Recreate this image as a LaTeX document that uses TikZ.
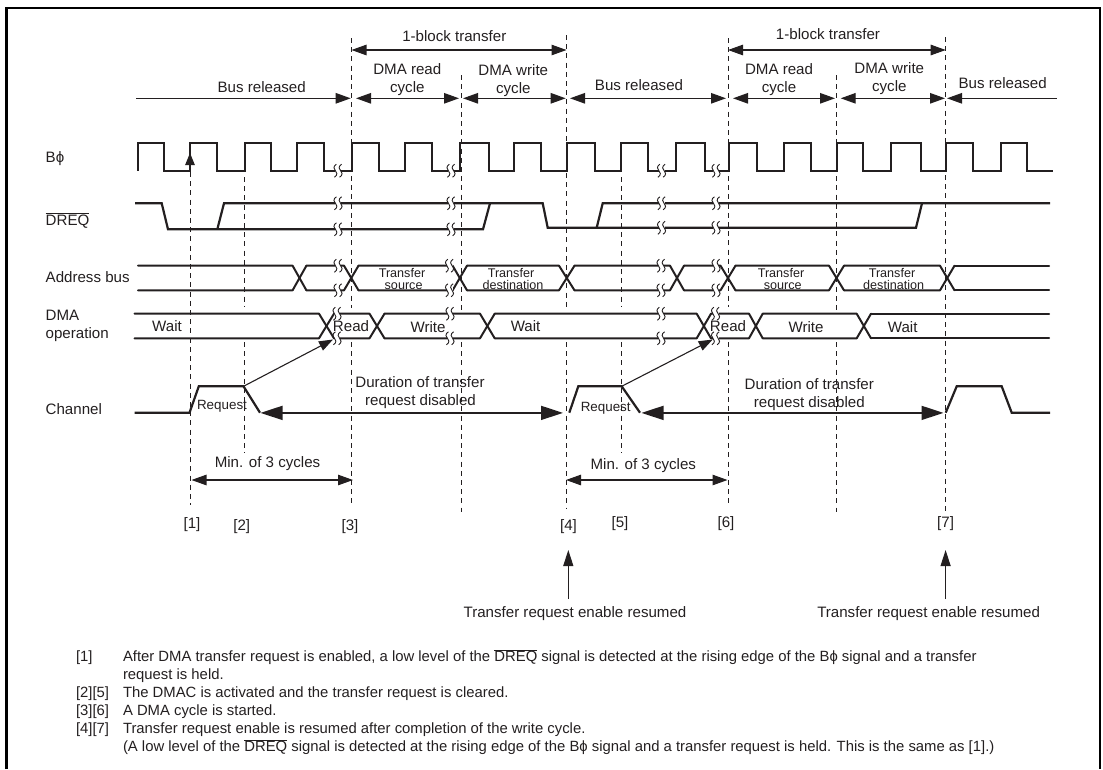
\documentclass[tikz,border=0pt]{standalone}
\usepackage{fontspec}
\setmainfont{Liberation Sans}
\usetikzlibrary{arrows.meta}
\definecolor{ink}{HTML}{231F20}
\newcommand\ovl[1]{\leavevmode\vbox{\hrule height .6pt\kern 1pt\hbox{#1}}}
\newcommand\phiglyph{ϕ}
\newcommand\brk[2]{%
  \fill[white] (#1-3,#2-4) rectangle (#1+3,#2+4);
  \foreach \d in {-2.6,2.6}{
    \draw[squig,shift={(#1+\d,#2)}] (1,-6.5) .. controls (-2.6,-4.5) and (-1.6,-1) .. (0,0) .. controls (1.6,1) and (2.6,4.5) .. (-1,6.5);
  }%
}
\newcommand\busrow[5]{% upper y, lower y, start, end, crossings
  \def\prevx{#3}%
  \foreach \s/\e [remember=\e as \prevx (initially #3)] in {#5}{
    \draw[bus] (\prevx,#1) -- (\s,#1) -- (\e,#2);
    \draw[bus] (\prevx,#2) -- (\s,#2) -- (\e,#1);
    \xdef\lastx{\e}
  }
  \draw[bus] (\lastx,#1) -- (#4,#1);
  \draw[bus] (\lastx,#2) -- (#4,#2);
}
\tikzset{
  sig/.style={line width=2.2pt,color=ink,line join=miter},
  bus/.style={line width=2pt,color=ink,line join=round,line cap=round},
  squig/.style={line width=.9pt,color=ink},
  guide/.style={line width=1pt,color=ink,dash pattern=on 5pt off 4.2pt},
  dim/.style={line width=1.1pt,color=ink,{Triangle[length=15pt,width=10.5pt]}-{Triangle[length=15pt,width=10.5pt]}},
  dimr/.style={line width=1.1pt,color=ink,-{Triangle[length=15pt,width=10.5pt]}},
  diml/.style={line width=1.1pt,color=ink,{Triangle[length=15pt,width=10.5pt]}-},
  big/.style={line width=1.6pt,color=ink,{Triangle[length=22pt,width=14pt]}-{Triangle[length=22pt,width=14pt]}},
  txt/.style={anchor=base,inner sep=0pt,outer sep=0pt,text=ink,font=\fontsize{15.1}{18}\selectfont},
  ltxt/.style={txt,anchor=base west},
  sm/.style={txt,font=\fontsize{12.6}{12}\selectfont},
  note/.style={anchor=base west,inner sep=0pt,outer sep=0pt,text=ink,font=\fontsize{14.85}{18}\selectfont},
}
\begin{document}
\begin{tikzpicture}[x=1pt,y=-1pt]
\useasboundingbox (0,0) rectangle (1103,769);
\draw[line width=2.4pt,black,line join=miter] (6.3,769) -- (6.3,8) -- (1099.7,8) -- (1099.7,769);

% guides
\draw[guide] (190,172) -- (190,505);
\draw[guide] (244.7,177) -- (244.7,307) (244.7,342) -- (244.7,453);
\draw[guide] (351.5,38) -- (351.5,308) (351.5,342) -- (351.5,505);
\draw[guide] (461,75) -- (461,312) (461,342) -- (461,511.7);
\draw[guide] (566.5,35) -- (566.5,307) (566.5,342) -- (566.5,508);
\draw[guide] (621.7,177) -- (621.7,307) (621.7,342) -- (621.7,453);
\draw[guide] (728,38) -- (728,307) (728,342) -- (728,505);
\draw[guide] (836,75) -- (836,312) (836,342) -- (836,511.7);
\draw[guide] (945.7,37) -- (945.7,512);

% top dimension arrows
\coordinate (dA) at (351.5,50); \coordinate (dB) at (566.5,50);
\coordinate (dC) at (728,50); \coordinate (dD) at (945.7,50);
\draw[dim] (dA) -- (dB);
\draw[dim] (dC) -- (dD);
\coordinate (b0) at (136,98.3);
\coordinate (b1) at (350.7,98.3); \coordinate (b2) at (356,98.3);
\coordinate (b3) at (459,98.3); \coordinate (b4) at (463,98.3);
\coordinate (b5) at (565.7,98.3); \coordinate (b6) at (570,98.3);
\coordinate (b7) at (726,98.3); \coordinate (b8) at (733,98.3);
\coordinate (b9) at (835,98.3); \coordinate (b10) at (840.7,98.3);
\coordinate (b11) at (945,98.3); \coordinate (b12) at (947,98.3);
\coordinate (b13) at (1057,98.3);
\draw[dimr] (b0) -- (b1);
\draw[dim] (b2) -- (b3);
\draw[dim] (b4) -- (b5);
\draw[dim] (b6) -- (b7);
\draw[dim] (b8) -- (b9);
\draw[dim] (b10) -- (b11);
\draw[diml] (b12) -- (b13);

% top texts
\node[txt] (t1) at (454.3,41) {1-block transfer};
\node[txt] (t2) at (828,39) {1-block transfer};
\node[txt] (t3) at (261.7,92) {Bus released};
\node[txt] (t4) at (407.3,74) {DMA read};
\node[txt] (t5) at (407.3,92) {cycle};
\node[txt] (t6) at (513.3,75) {DMA write};
\node[txt] (t7) at (513.3,93) {cycle};
\node[txt] (t8) at (639,90) {Bus released};
\node[txt] (t9) at (779,74) {DMA read};
\node[txt] (t10) at (779,92) {cycle};
\node[txt] (t11) at (889.3,73) {DMA write};
\node[txt] (t12) at (889.3,91) {cycle};
\node[txt] (t13) at (1002.7,88) {Bus released};

% left labels
\node[ltxt] (l1) at (45.7,162) {B\phiglyph};
\node[ltxt] (l2) at (45.7,225) {\ovl{DREQ}};
\node[ltxt] (l3) at (45.7,282) {Address bus};
\node[ltxt] (l4) at (45.7,320) {DMA};
\node[ltxt] (l5) at (45.7,338) {operation};
\node[ltxt] (l6) at (45.7,414) {Channel};

% clock
\def\hi{143.3}\def\lo{170.7}
\draw[sig] (137.7,\lo) -- (137.7,\hi) -- (164.3,\hi) -- (164.3,\lo) -- (190,\lo) -- (190,\hi) -- (217,\hi) -- (217,\lo) -- (245,\lo) -- (245,\hi) -- (271,\hi) -- (271,\lo) -- (296.7,\lo) -- (296.7,\hi) -- (324,\hi) -- (324,\lo) -- (351.7,\lo) -- (351.7,\hi) -- (379,\hi) -- (379,\lo) -- (405,\lo) -- (405,\hi) -- (431.7,\hi) -- (431.7,\lo) -- (460,\lo) -- (460,\hi) -- (489,\hi) -- (489,\lo) -- (514,\lo) -- (514,\hi) -- (541,\hi) -- (541,\lo) -- (567,\lo) -- (567,\hi) -- (595,\hi) -- (595,\lo) -- (620.7,\lo) -- (620.7,\hi) -- (647.7,\hi) -- (647.7,\lo) -- (676,\lo) -- (676,\hi) -- (705,\hi) -- (705,\lo) -- (729,\lo) -- (729,\hi) -- (757,\hi) -- (757,\lo) -- (784,\lo) -- (784,\hi) -- (811,\hi) -- (811,\lo) -- (836.7,\lo) -- (836.7,\hi) -- (863,\hi) -- (863,\lo) -- (891,\lo) -- (891,\hi) -- (920.7,\hi) -- (920.7,\lo) -- (946,\lo) -- (946,\hi) -- (973,\hi) -- (973,\lo) -- (1001,\lo) -- (1001,\hi) -- (1027,\hi) -- (1027,\lo) -- (1052.7,\lo);
\coordinate (ck) at (190,171);
\coordinate (ckt) at (190,153);
\draw[line width=1.1pt,color=ink,-{Triangle[length=12pt,width=9.5pt]}] (ck) -- (ckt);
\foreach \x in {338,451,661.5,716} \brk{\x}{170.7};

% DREQ
\draw[sig] (135,203.3) -- (161.7,203.3) -- (168,229.3) -- (483,229.3) -- (490,203.3);
\draw[sig] (217.3,229.3) -- (224,203.3) -- (542.7,203.3) -- (547.7,227.7) -- (596.7,227.7) -- (602.7,203.3) -- (1050,203.3);
\draw[sig] (596.7,227.7) -- (916,227.7) -- (922,203.3);
\foreach \x in {338,451}{\brk{\x}{203.3}\brk{\x}{229.3}}
\foreach \x in {661.5,716}{\brk{\x}{203.3}\brk{\x}{227.7}}

% address bus
\busrow{265.7}{290.3}{138}{1049}{292.6/306.4,344/358.5,452.6/467,559/574.5,670/684,720.5/735.5,829/844,940/954.5}
\foreach \x in {338,449.5,661,716}{\brk{\x}{265.7}\brk{\x}{290.3}}
\node[sm] (a1) at (402,277.5) {Transfer};
\node[sm] (a2) at (403.6,289) {source};
\node[sm] (a3) at (511,277.5) {Transfer};
\node[sm] (a4) at (513,289) {destination};
\node[sm] (a5) at (781,277.5) {Transfer};
\node[sm] (a6) at (782.7,289) {source};
\node[sm] (a7) at (892,277.5) {Transfer};
\node[sm] (a8) at (893.7,289) {destination};

% DMA operation
\busrow{313.7}{338.3}{134.5}{1049}{319/334,369.5/384.5,480/494.7,696.7/711,749/762.7,856.7/871}
\foreach \x in {337,450,661,715.5}{\brk{\x}{313.7}\brk{\x}{338.3}}
\node[txt] (o1) at (167,331) {Wait};
\node[txt] (o2) at (351,331) {Read};
\node[txt] (o3) at (428,332) {Write};
\node[txt] (o4) at (525.6,331) {Wait};
\node[txt] (o5) at (728,331) {Read};
\node[txt] (o6) at (806,332) {Write};
\node[txt] (o7) at (902.7,332) {Wait};

% channel
\draw[sig] (134.5,412.7) -- (189.5,412.7) -- (198.8,386.3) -- (243.5,386.3) -- (260,412.7);
\draw[sig] (569.3,412.7) -- (578.3,386.3) -- (621.7,386.3) -- (640,412.7);
\draw[sig] (945.7,412.7) -- (956.7,386.3) -- (1001.7,386.3) -- (1011.7,412.7) -- (1050,412.7);
\coordinate (c1) at (243.5,386.3); \coordinate (c2) at (333,339.5);
\coordinate (c3) at (621.7,386.3); \coordinate (c4) at (712.7,339.5);
\draw[line width=1.1pt,color=ink,-{Triangle[length=14pt,width=10pt]}] (c1) -- (c2);
\draw[line width=1.1pt,color=ink,-{Triangle[length=14pt,width=10pt]}] (c3) -- (c4);
\coordinate (e1) at (260.5,412.9); \coordinate (e2) at (563,412.9);
\coordinate (e3) at (641.5,412.9); \coordinate (e4) at (943.5,412.9);
\draw[big] (e1) -- (e2);
\draw[big] (e3) -- (e4);
\node[sm,font=\fontsize{13.4}{13}\selectfont] (r1) at (222,409) {Request};
\node[sm,font=\fontsize{13.4}{13}\selectfont] (r2) at (605.7,411) {Request};
\node[txt] (u1) at (420,387) {Duration of transfer};
\node[txt] (u2) at (420.5,405) {request disabled};
\node[txt] (u3) at (809.3,389) {Duration of transfer};
\node[txt] (u4) at (809.3,407) {request disabled};

% min cycles
\node[txt] (m1) at (267.5,467) {Min. of 3 cycles};
\node[txt] (m2) at (643.3,469) {Min. of 3 cycles};
\coordinate (n1) at (191.5,480); \coordinate (n2) at (353,480);
\coordinate (n3) at (566,480); \coordinate (n4) at (727.5,480);
\draw[dim] (n1) -- (n2);
\draw[dim] (n3) -- (n4);

% step labels
\node[txt] (s1) at (192,528) {[1]};
\node[txt] (s2) at (241.7,530) {[2]};
\node[txt] (s3) at (350,530) {[3]};
\node[txt] (s4) at (568.5,530) {[4]};
\node[txt] (s5) at (620,527.5) {[5]};
\node[txt] (s6) at (726,527.5) {[6]};
\node[txt] (s7) at (945.6,527.5) {[7]};

% resume arrows
\node[txt] (w1) at (575,617) {Transfer request enable resumed};
\node[txt] (w2) at (928.6,617) {Transfer request enable resumed};
\coordinate (v1) at (568.3,599); \coordinate (v2) at (568.3,550);
\coordinate (v3) at (945.6,599); \coordinate (v4) at (945.6,550);
\draw[line width=1.1pt,color=ink,-{Triangle[length=16pt,width=10pt]}] (v1) -- (v2);
\draw[line width=1.1pt,color=ink,-{Triangle[length=16pt,width=10pt]}] (v3) -- (v4);

% notes
\node[note] (k1) at (76,661.5) {[1]};
\node[note] (k2) at (123,661.5) {After DMA transfer request is enabled, a low level of the \ovl{DREQ} signal is detected at the rising edge of the B\phiglyph{} signal and a transfer};
\node[note] (k3) at (123,679.5) {request is held.};
\node[note] (k4) at (76,697.5) {[2][5]};
\node[note] (k5) at (123,697.5) {The DMAC is activated and the transfer request is cleared.};
\node[note] (k6) at (76,715.5) {[3][6]};
\node[note] (k7) at (123,715.5) {A DMA cycle is started.};
\node[note] (k8) at (76,733.5) {[4][7]};
\node[note] (k9) at (123,733.5) {Transfer request enable is resumed after completion of the write cycle.};
\node[note] (k10) at (123,751.5) {(A low level of the \ovl{DREQ} signal is detected at the rising edge of the B\phiglyph{} signal and a transfer request is held. This is the same as [1].)};
\end{tikzpicture}
\end{document}
